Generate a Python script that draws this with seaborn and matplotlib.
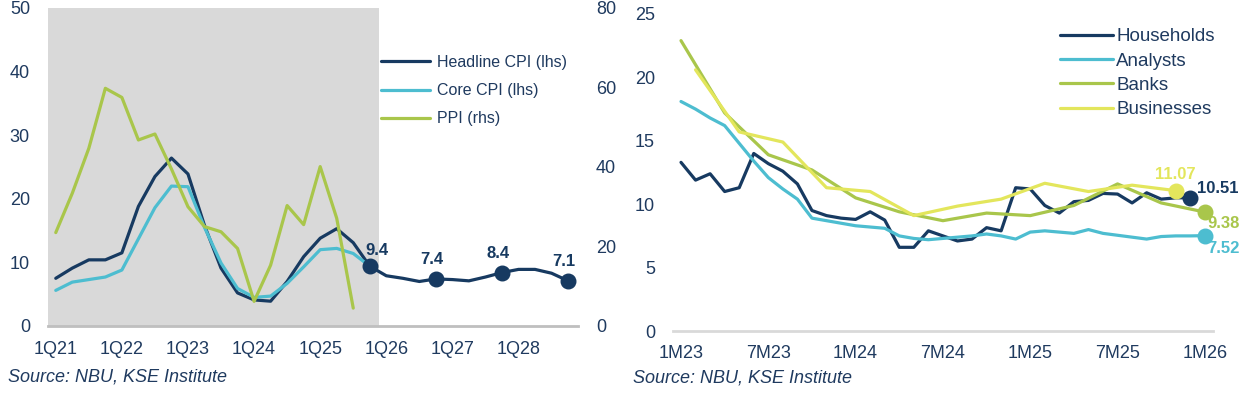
import matplotlib.pyplot as plt
import pandas as pd
import seaborn as sns

# Left panel: quarterly inflation, % y/y (1Q21 .. 4Q28)
quarters = ['1Q21', '2Q21', '3Q21', '4Q21', '1Q22', '2Q22', '3Q22', '4Q22',
            '1Q23', '2Q23', '3Q23', '4Q23', '1Q24', '2Q24', '3Q24', '4Q24',
            '1Q25', '2Q25', '3Q25', '4Q25', '1Q26', '2Q26', '3Q26', '4Q26',
            '1Q27', '2Q27', '3Q27', '4Q27', '1Q28', '2Q28', '3Q28', '4Q28']
headline_cpi = [7.5, 9.1, 10.4, 10.4, 11.5, 18.8, 23.5, 26.4, 23.9, 15.8, 9.1, 5.2,
                4.1, 3.9, 7.0, 10.9, 13.8, 15.3, 13.1, 9.4, 7.9, 7.5, 7.0, 7.4,
                7.3, 7.1, 7.7, 8.4, 8.9, 8.9, 8.3, 7.1]
core_cpi = [5.6, 6.9, 7.3, 7.7, 8.8, 13.7, 18.6, 22.0, 21.9, 15.5, 9.9, 5.9,
            4.5, 4.7, 6.7, 9.3, 12.0, 12.2, 11.4, 9.4]
ppi = [23.5, 33.4, 44.7, 59.8, 57.5, 46.8, 48.3, 39.5, 30.0, 25.0, 23.7, 19.5,
       6.2, 15.3, 30.3, 25.5, 40.1, 27.1, 4.5]
labelled_quarters = ['4Q25', '4Q26', '4Q27', '4Q28']
q_ticks = ['1Q21', '1Q22', '1Q23', '1Q24', '1Q25', '1Q26', '1Q27', '1Q28']

# Right panel: inflation expectations, months since Jan 2023
households = [13.3, 11.9, 12.4, 11.0, 11.3, 14.0, 13.2, 12.6, 11.6, 9.5, 9.1, 8.9,
              8.8, 9.4, 8.75, 6.6, 6.6, 7.9, 7.5, 7.1, 7.25, 8.15, 7.9, 11.3,
              11.2, 9.9, 9.3, 10.2, 10.3, 10.85, 10.8, 10.1, 10.9, 10.4, 10.5, 10.51]
analysts = [18.1, 17.5, 16.8, 16.2, 14.8, 13.4, 12.1, 11.2, 10.4, 8.9, 8.7, 8.5,
            8.3, 8.2, 8.1, 7.5, 7.3, 7.2, 7.3, 7.4, 7.5, 7.65, 7.5, 7.25,
            7.8, 7.9, 7.8, 7.7, 8.0, 7.7, 7.55, 7.4, 7.25, 7.45, 7.5, 7.5, 7.52]
banks_months = [0, 3, 6, 9, 12, 15, 18, 21, 24, 27, 30, 33, 36]
banks = [22.9, 17.2, 13.9, 12.7, 10.5, 9.4, 8.7, 9.3, 9.1, 9.9, 11.6, 10.1, 9.38]
business_months = [1, 4, 7, 10, 13, 16, 19, 22, 25, 28, 31, 34]
businesses = [20.6, 15.7, 14.9, 11.3, 11.0, 9.1, 9.85, 10.4, 11.65, 11.0, 11.5, 11.07]
m_ticks = ['1M23', '7M23', '1M24', '7M24', '1M25', '7M25', '1M26']

NAVY = '#173A61'
CYAN = '#4DBDD0'
GREEN = '#A9C64B'
YELLOW = '#E3E65C'
TEXT = '#1F3A5F'

sns.set_style('white')
plt.rcParams['font.family'] = ['Liberation Sans', 'DejaVu Sans']
plt.rcParams['font.size'] = 13

fig = plt.figure(figsize=(12.46, 3.96), dpi=100)
ax = fig.add_axes([48 / 1246, 1 - 326 / 396, 530 / 1246, 318 / 396])
ax2 = ax.twinx()
axr = fig.add_axes([673 / 1246, 1 - 331 / 396, 540 / 1246, 317 / 396])

# ---- left chart
qpos = list(range(len(quarters)))
ax.axvspan(-0.47, 19.55, color='#D9D9D9', lw=0, zorder=0)
sns.lineplot(x=qpos, y=headline_cpi, ax=ax, color=NAVY, lw=2.3, label='Headline CPI (lhs)', legend=False)
sns.lineplot(x=qpos[:len(core_cpi)], y=core_cpi, ax=ax, color=CYAN, lw=2.3, label='Core CPI (lhs)', legend=False)
sns.lineplot(x=qpos[:len(ppi)], y=ppi, ax=ax2, color=GREEN, lw=2.3, label='PPI (rhs)', legend=False)

for q in labelled_quarters:
    i = quarters.index(q)
    ax.scatter(i, headline_cpi[i], s=110, color=NAVY, zorder=5)
    off = (5, 11.5) if q == '4Q25' else (-3, 14)
    ax.annotate(f'{headline_cpi[i]:.1f}', (i, headline_cpi[i]), xytext=off, textcoords='offset points',
                ha='center', va='center', color=NAVY, fontweight='bold', fontsize=12)

ax.set_xlim(-0.47, 31.6)
ax.set_ylim(0, 50)
ax2.set_ylim(0, 80)
ax.set_yticks([0, 10, 20, 30, 40, 50])
ax2.set_yticks([0, 20, 40, 60, 80])
ax.set_xticks([quarters.index(t) for t in q_ticks])
ax.set_xticklabels(q_ticks)
ax.tick_params(axis='both', length=0, colors=TEXT, labelsize=13)
ax.tick_params(axis='y', pad=13)
ax.tick_params(axis='x', pad=11)
ax2.tick_params(axis='y', length=0, colors=TEXT, labelsize=13, pad=13)
for a in (ax, ax2):
    for s in ['top', 'left', 'right']:
        a.spines[s].set_visible(False)
ax.spines['bottom'].set_color('#BFBFBF')
ax.spines['bottom'].set_linewidth(2)
ax2.spines['bottom'].set_visible(False)

handles = ax.get_lines()[:2] + ax2.get_lines()[:1]
leg = ax2.legend(handles, [h.get_label() for h in handles], loc='upper left',
                 bbox_to_anchor=(0.628, 0.852), frameon=False, borderpad=0, borderaxespad=0,
                 handlelength=3.05, handletextpad=0.45, labelspacing=0.82, fontsize=11.5)
for t in leg.get_texts():
    t.set_color(TEXT)

# ---- right chart
mpos_h = list(range(len(households)))
mpos_a = list(range(len(analysts)))
sns.lineplot(x=mpos_h, y=households, ax=axr, color=NAVY, lw=2.3, label='Households', legend=False)
sns.lineplot(x=mpos_a, y=analysts, ax=axr, color=CYAN, lw=2.3, label='Analysts', legend=False)
sns.lineplot(x=banks_months, y=banks, ax=axr, color=GREEN, lw=2.3, label='Banks', legend=False)
sns.lineplot(x=business_months, y=businesses, ax=axr, color=YELLOW, lw=2.3, label='Businesses', legend=False)

ends = [(mpos_h[-1], households[-1], NAVY, (4.5, 7), 'left'),
        (mpos_a[-1], analysts[-1], CYAN, (1.5, -9.5), 'left'),
        (banks_months[-1], banks[-1], GREEN, (1.5, -8), 'left'),
        (business_months[-1], businesses[-1], YELLOW, (0, 11.5), 'center')]
for x, y, c, off, ha in ends:
    axr.scatter(x, y, s=110, color=c, zorder=5)
    axr.annotate(f'{y:.2f}', (x, y), xytext=off, textcoords='offset points',
                 ha=ha, va='center', color=c, fontweight='bold', fontsize=12)

axr.set_xlim(-0.55, 36.56)
axr.set_ylim(0, 25)
axr.set_yticks([0, 5, 10, 15, 20, 25])
axr.set_xticks([0, 6, 12, 18, 24, 30, 36])
axr.set_xticklabels(m_ticks)
axr.tick_params(axis='both', length=0, colors=TEXT, labelsize=13)
axr.tick_params(axis='y', pad=13)
axr.tick_params(axis='x', pad=10)
for s in ['top', 'left', 'right']:
    axr.spines[s].set_visible(False)
axr.spines['bottom'].set_color('#D9D9D9')
axr.spines['bottom'].set_linewidth(2)

leg2 = axr.legend(loc='upper left', bbox_to_anchor=(0.717, 0.956), frameon=False, borderpad=0,
                  borderaxespad=0, handlelength=2.8, handletextpad=0.2, labelspacing=0.39, fontsize=13.5)
for t in leg2.get_texts():
    t.set_color(TEXT)

fig.text(8 / 1246, 1 - 377 / 396, 'Source: NBU, KSE Institute', style='italic', color=TEXT,
         fontsize=13, va='center', ha='left')
fig.text(633 / 1246, 1 - 378 / 396, 'Source: NBU, KSE Institute', style='italic', color=TEXT,
         fontsize=13, va='center', ha='left')

fig.savefig('out.png', dpi=100)
